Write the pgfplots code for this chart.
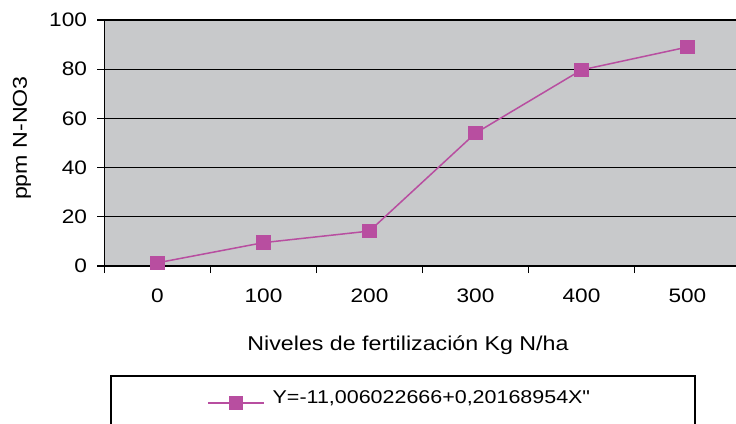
\documentclass[border=0pt]{standalone}
\usepackage{pgfplots}
\pgfplotsset{compat=1.18}
\usepackage{fontspec}
\setmainfont{Liberation Sans}[FakeStretch=1.16]
\newfontfamily\nomapfont{Liberation Sans}[FakeStretch=1.16, Ligatures=TeXOff]
\definecolor{plotbg}{RGB}{200,201,203}
\definecolor{mag}{RGB}{184,78,160}
\begin{document}
\begin{tikzpicture}
\useasboundingbox (0,0) rectangle (736bp,424bp);
\begin{axis}[
  at={(104.5bp,158bp)}, anchor=south west,
  scale only axis, width=631.5bp, height=246bp,
  xmin=-0.5, xmax=5.458, ymin=0, ymax=100,
  axis x line*=bottom, axis y line*=left,
  axis line style={line width=1.3bp, black, -},
  axis background/.style={fill=plotbg},
  ymajorgrids, grid style={black, line width=1.2bp},
  xtick={0,1,2,3,4,5},
  xticklabels={0,100,200,300,400,500},
  minor xtick={-0.5,0.5,1.5,2.5,3.5,4.5,5.5},
  ytick={0,20,40,60,80,100},
  tick align=outside,
  x tick style={draw=none},
  minor x tick style={draw=black, line width=1.3bp},
  minor tick length=7bp,
  y tick style={black, line width=1.3bp},
  major tick length=7bp,
  /pgf/number format/assume math mode=true,
  tick label style={font=\fontsize{19.5bp}{22bp}\selectfont},
  xticklabel style={yshift=-12bp},
  yticklabel style={xshift=-7bp},
  xlabel={Niveles de fertilización Kg N/ha},
  ylabel={ppm N-NO3},
  label style={font=\fontsize{20bp}{22bp}\selectfont},
  xlabel style={at={(axis description cs:0.4806,-0.321)}, anchor=center},
  ylabel style={at={(axis description cs:-0.1306,0.52)}, anchor=center, rotate=0},
  legend style={at={(axis description cs:0.1623,-0.557)}, anchor=west,
    draw=none, fill=none, inner sep=0pt,
    font=\fontsize{18.5bp}{22bp}\selectfont},
  legend image code/.code={\draw[mark repeat=2,mark phase=2,#1] plot coordinates {(0bp,0bp) (28bp,0bp) (56bp,0bp)};},
  clip=false,
]
\addplot[mag, line width=1.5bp, mark=square*, mark size=6.5bp, mark options={fill=mag, draw=mag}]
  coordinates {(0,1.3) (1,9.5) (2,14.2) (3,54) (4,79.7) (5,89)};
\addlegendentry{\hspace{6bp}\raisebox{10bp}{Y=-11,006022666+0,20168954X{\nomapfont\symbol{34}}}}
\end{axis}
\draw[line width=1.3bp] (111bp,-5bp)--(111bp,48bp)--(695bp,48bp)--(695bp,-5bp);
\end{tikzpicture}
\end{document}
